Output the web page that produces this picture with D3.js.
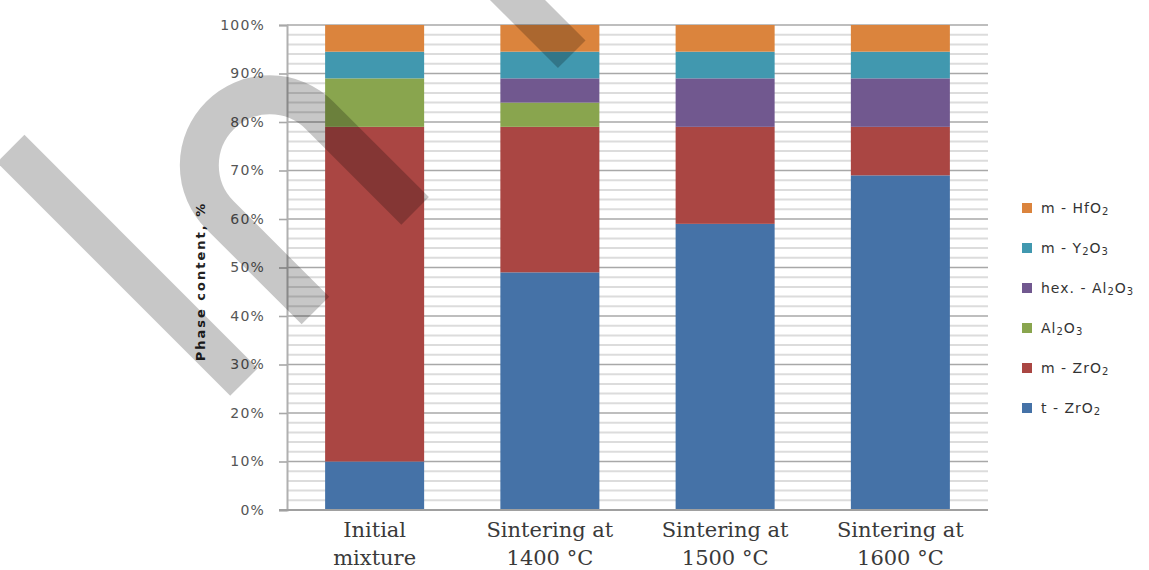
<!DOCTYPE html>
<html>
<head>
<meta charset="utf-8">
<script src="https://cdn.jsdelivr.net/npm/d3@7"></script>
<style>
  html, body { margin: 0; padding: 0; background: #fff; }
  svg { display: block; }
</style>
</head>
<body>
<svg id="chart" width="1149" height="570"></svg>
<script>
// Phase composition of the ceramic after each processing step (stacked, %)
const categories = ["Initial mixture", "Sintering at 1400 °C", "Sintering at 1500 °C", "Sintering at 1600 °C"];
const categoryLines = [["Initial", "mixture"], ["Sintering at", "1400 °C"], ["Sintering at", "1500 °C"], ["Sintering at", "1600 °C"]];

const tZrO2    = [10, 49, 59, 69];
const mZrO2    = [69, 30, 20, 10];
const al2o3    = [10, 5, 0, 0];
const hexAl2O3 = [0, 5, 10, 10];
const mY2O3    = [5.5, 5.5, 5.5, 5.5];
const mHfO2    = [5.5, 5.5, 5.5, 5.5];

// stacking order, bottom to top
const seriesKeys = ["tZrO2", "mZrO2", "al2o3", "hexAl2O3", "mY2O3", "mHfO2"];
const seriesValues = { tZrO2, mZrO2, al2o3, hexAl2O3, mY2O3, mHfO2 };
// legend labels as [text, isSubscript] runs
const seriesLabels = {
  mHfO2:    [["m - HfO", false], ["2", true]],
  mY2O3:    [["m - Y", false], ["2", true], ["O", false], ["3", true]],
  hexAl2O3: [["hex. - Al", false], ["2", true], ["O", false], ["3", true]],
  al2o3:    [["Al", false], ["2", true], ["O", false], ["3", true]],
  mZrO2:    [["m - ZrO", false], ["2", true]],
  tZrO2:    [["t - ZrO", false], ["2", true]]
};
const seriesColors = {
  tZrO2: "#4572A7", mZrO2: "#AA4643", al2o3: "#89A54E",
  hexAl2O3: "#71588F", mY2O3: "#4198AF", mHfO2: "#DB843D"
};

const yMajorTicks = [0, 10, 20, 30, 40, 50, 60, 70, 80, 90, 100];
const yMinorTicks = d3.range(0, 101, 2);

const svg = d3.select("#chart");
const plot = { left: 287, right: 988, top: 25, bottom: 510 };

const x = d3.scaleBand()
  .domain(categories)
  .range([plot.left, plot.right])
  .paddingInner(0.435)
  .paddingOuter(0.2175);

const y = d3.scaleLinear().domain([0, 100]).range([plot.bottom, plot.top]);

// gridlines: light every 2 %, darker every 10 %
svg.append("g").selectAll("line")
  .data(yMinorTicks.filter(v => v % 10 !== 0))
  .join("line")
  .attr("x1", plot.left).attr("x2", plot.right)
  .attr("y1", d => y(d)).attr("y2", d => y(d))
  .attr("stroke", "#dcdcdc").attr("stroke-width", 2);

svg.append("g").selectAll("line")
  .data(yMajorTicks.filter(v => v > 0))
  .join("line")
  .attr("x1", plot.left).attr("x2", plot.right)
  .attr("y1", d => y(d)).attr("y2", d => y(d))
  .attr("stroke", "#a8a8a8").attr("stroke-width", 1.6);

// stacked bars
const rows = categories.map((c, i) => {
  const r = { category: c };
  seriesKeys.forEach(k => { r[k] = seriesValues[k][i]; });
  return r;
});
const stacked = d3.stack().keys(seriesKeys)(rows);

svg.append("g").selectAll("g")
  .data(stacked)
  .join("g")
  .attr("fill", d => seriesColors[d.key])
  .selectAll("rect")
  .data(d => d.filter(p => p[1] - p[0] > 0))
  .join("rect")
  .attr("x", d => x(d.data.category))
  .attr("width", x.bandwidth())
  .attr("y", d => y(d[1]))
  .attr("height", d => y(d[0]) - y(d[1]));

// y axis
const yAxis = svg.append("g")
  .attr("transform", `translate(${plot.left},0)`)
  .call(d3.axisLeft(y).tickValues(yMajorTicks).tickFormat(d => d + "%").tickSize(8).tickPadding(14));
yAxis.select(".domain").attr("stroke", "#b0b0b0").attr("stroke-width", 2);
yAxis.selectAll(".tick line").attr("stroke", "#a8a8a8").attr("stroke-width", 1.6);
yAxis.selectAll(".tick text")
  .attr("font-family", "'DejaVu Sans', sans-serif")
  .attr("font-size", 14)
  .attr("letter-spacing", 1.2)
  .attr("fill", "#555");

// x axis
const xAxis = svg.append("g")
  .attr("transform", `translate(0,${plot.bottom})`)
  .call(d3.axisBottom(x).tickSize(0).tickFormat(""));
xAxis.select(".domain").attr("stroke", "#a0a0a0").attr("stroke-width", 2)
  .attr("d", `M${plot.left - 8},0H${plot.right}`);

const catLabels = svg.append("g").selectAll("text")
  .data(categories)
  .join("text")
  .attr("x", d => x(d) + x.bandwidth() / 2)
  .attr("text-anchor", "middle")
  .attr("font-family", "'DejaVu Serif', serif")
  .attr("font-size", 21)
  .attr("fill", "#3a3a3a");
catLabels.selectAll("tspan")
  .data((d, i) => categoryLines[i])
  .join("tspan")
  .attr("x", function () { return d3.select(this.parentNode).attr("x"); })
  .attr("y", (d, i) => 537 + i * 28)
  .text(d => d);

// y axis title
svg.append("text")
  .attr("transform", `translate(205,${(plot.top + plot.bottom) / 2 + 14}) rotate(-90)`)
  .attr("text-anchor", "middle")
  .attr("font-family", "'DejaVu Sans', sans-serif")
  .attr("font-weight", "bold")
  .attr("font-size", 13)
  .attr("letter-spacing", 2)
  .attr("fill", "#222")
  .text("Phase content, %");

// legend, top entry is the top of the stack
const legendKeys = seriesKeys.slice().reverse();
const legend = svg.append("g").selectAll("g")
  .data(legendKeys)
  .join("g")
  .attr("transform", (d, i) => `translate(1022,${208 + i * 40})`);
legend.append("rect")
  .attr("x", 0).attr("y", -5).attr("width", 10).attr("height", 10)
  .attr("fill", d => seriesColors[d]);
const legendText = legend.append("text")
  .attr("x", 19).attr("y", 5)
  .attr("font-family", "'DejaVu Sans', sans-serif")
  .attr("font-size", 14)
  .attr("letter-spacing", 1)
  .attr("fill", "#333");
legendText.selectAll("tspan")
  .data(d => seriesLabels[d])
  .join("tspan")
  .attr("font-size", d => d[1] ? 10 : 14)
  .attr("baseline-shift", d => d[1] ? "-2" : null)
  .text(d => d[0]);

// translucent diagonal watermark strokes over the plot
const wm = svg.append("g")
  .attr("transform", "translate(244,382) rotate(-45)")
  .attr("fill", "none")
  .attr("stroke", "#000")
  .attr("stroke-opacity", 0.22)
  .attr("stroke-width", 39);
wm.append("path").attr("d", "M0,0V-330");
wm.append("path").attr("d", "M101,0V-135A70.5,70.5 0 0 1 242,-135V0");
wm.append("path").attr("d", "M463.5,0V-420");
</script>
</body>
</html>
